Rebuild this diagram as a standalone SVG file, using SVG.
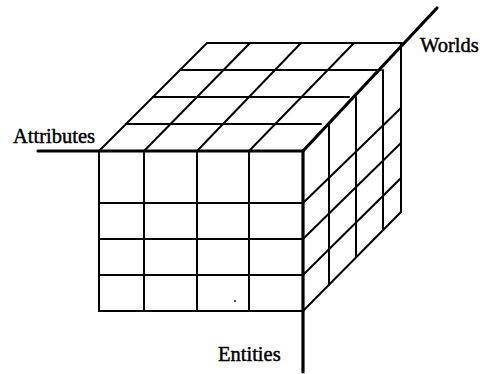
<svg xmlns="http://www.w3.org/2000/svg" width="485" height="374" viewBox="0 0 485 374">
<style>
.g{stroke:#000;stroke-width:2;fill:none;stroke-linecap:round}
.ax{stroke:#000;stroke-width:3.2;fill:none;stroke-linecap:round}
.lb{font-family:"Liberation Serif","Times New Roman",serif;font-size:20.5px;fill:#000;stroke:#000;stroke-width:0.45}
</style>
<rect width="485" height="374" fill="#fff"/>
<g id="top-face" class="g">
<line x1="207" y1="43" x2="402" y2="43"/>
<line x1="180" y1="70" x2="381" y2="70"/>
<line x1="153" y1="97" x2="349" y2="97"/>
<line x1="126" y1="124" x2="321" y2="124"/>
<line x1="99" y1="151" x2="207" y2="43"/>
<line x1="144" y1="151" x2="250" y2="43"/>
<line x1="197" y1="151" x2="301" y2="43"/>
<line x1="249" y1="151" x2="354" y2="43"/>
</g>
<g id="front-face" class="g">
<line x1="99" y1="151" x2="99" y2="311"/>
<line x1="144" y1="151" x2="144" y2="311"/>
<line x1="197" y1="151" x2="197" y2="311"/>
<line x1="249" y1="151" x2="249" y2="311"/>
<line x1="99" y1="203" x2="303" y2="203"/>
<line x1="99" y1="239" x2="303" y2="239"/>
<line x1="99" y1="275" x2="303" y2="275"/>
<line x1="99" y1="311" x2="303" y2="311"/>
<circle cx="235" cy="301" r="0.9" fill="#000" stroke="none"/>
</g>
<g id="right-face" class="g">
<line x1="329" y1="124" x2="329" y2="285"/>
<line x1="356" y1="97" x2="356" y2="257"/>
<line x1="383" y1="70" x2="383" y2="229"/>
<line x1="401" y1="43" x2="401" y2="212"/>
<line x1="303" y1="203" x2="401" y2="108"/>
<line x1="303" y1="239" x2="401" y2="143"/>
<line x1="303" y1="275" x2="401" y2="178"/>
<line x1="303" y1="311" x2="401" y2="212"/>
</g>
<g id="axes" class="ax">
<line id="attributes-axis" x1="38" y1="151" x2="303" y2="151"/>
<line id="worlds-axis" x1="303" y1="151" x2="437" y2="8"/>
<line id="entities-axis" x1="303" y1="151" x2="303" y2="372"/>
</g>
<g id="labels">
<text id="attributes" class="lb" x="13" y="143">Attributes</text>
<text id="worlds" class="lb" x="420" y="52">Worlds</text>
<text id="entities" class="lb" x="218" y="361">Entities</text>
</g>
</svg>
